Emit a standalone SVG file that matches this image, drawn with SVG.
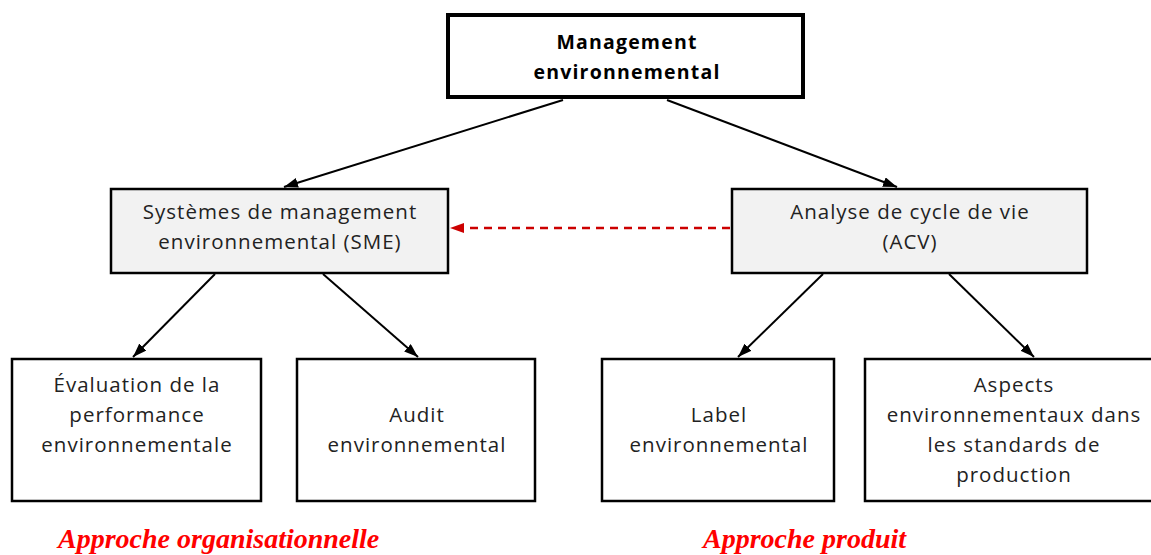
<svg xmlns="http://www.w3.org/2000/svg" width="1151" height="555" viewBox="0 0 1151 555">
<style>
  .box { fill: #ffffff; stroke: #000000; stroke-width: 2.5; }
  .grey { fill: #f2f2f2; }
  .top { stroke-width: 4; }
  .t { font-family: "Open Sans", "Liberation Sans", sans-serif; font-size: 20.5px; letter-spacing: 1px; fill: #222222; text-anchor: middle; }
  .b { font-weight: bold; font-size: 19.5px; letter-spacing: 1.2px; fill: #000000; }
  .conn { stroke: #000000; stroke-width: 2; fill: none; }
  .dash { stroke: #cc0000; stroke-width: 2.5; fill: none; stroke-dasharray: 8 6; }
  .lab { font-family: "Liberation Serif", "Times New Roman", serif; font-weight: bold; font-style: italic; font-size: 28px; fill: #ff0000; }
</style>
<defs>
  <marker id="arr" viewBox="0 0 14 10" refX="14" refY="5" markerWidth="14" markerHeight="10" markerUnits="userSpaceOnUse" orient="auto">
    <path d="M0,0 L14,5 L0,10 Z" fill="#000000"/>
  </marker>
  <marker id="arrRed" viewBox="0 0 14 10" refX="14" refY="5" markerWidth="14" markerHeight="10" markerUnits="userSpaceOnUse" orient="auto">
    <path d="M0,0 L14,5 L0,10 Z" fill="#cc0000"/>
  </marker>
</defs>

<g id="connectors">
  <line class="conn" x1="563" y1="100" x2="284" y2="187" marker-end="url(#arr)"/>
  <line class="conn" x1="667" y1="100" x2="897" y2="187" marker-end="url(#arr)"/>
  <line class="conn" x1="215" y1="274" x2="133" y2="357" marker-end="url(#arr)"/>
  <line class="conn" x1="323" y1="274" x2="418" y2="357" marker-end="url(#arr)"/>
  <line class="conn" x1="823" y1="274" x2="738" y2="357" marker-end="url(#arr)"/>
  <line class="conn" x1="949" y1="274" x2="1034" y2="357" marker-end="url(#arr)"/>
  <line class="dash" x1="730" y1="228" x2="450" y2="228" marker-end="url(#arrRed)"/>
</g>

<g id="node-management">
  <rect class="box top" x="448" y="15" width="355" height="82"/>
  <text class="t b" x="627" y="49">Management</text>
  <text class="t b" x="627" y="79">environnemental</text>
</g>

<g id="node-sme">
  <rect class="box grey" x="111" y="189" width="337" height="84"/>
  <text class="t" x="280" y="219">Systèmes de management</text>
  <text class="t" x="280" y="249">environnemental (SME)</text>
</g>

<g id="node-acv">
  <rect class="box grey" x="732" y="189" width="355" height="84"/>
  <text class="t" x="910" y="219">Analyse de cycle de vie</text>
  <text class="t" x="910" y="249">(ACV)</text>
</g>

<g id="node-evaluation">
  <rect class="box" x="12" y="359" width="249" height="142"/>
  <text class="t" x="137" y="392">Évaluation de la</text>
  <text class="t" x="137" y="422">performance</text>
  <text class="t" x="137" y="452">environnementale</text>
</g>

<g id="node-audit">
  <rect class="box" x="297" y="359" width="238" height="142"/>
  <text class="t" x="417" y="422">Audit</text>
  <text class="t" x="417" y="452">environnemental</text>
</g>

<g id="node-label">
  <rect class="box" x="602" y="359" width="232" height="142"/>
  <text class="t" x="719" y="422">Label</text>
  <text class="t" x="719" y="452">environnemental</text>
</g>

<g id="node-aspects">
  <rect class="box" x="865" y="359" width="290" height="142"/>
  <text class="t" x="1014" y="392">Aspects</text>
  <text class="t" x="1014" y="422">environnementaux dans</text>
  <text class="t" x="1014" y="452">les standards de</text>
  <text class="t" x="1014" y="482">production</text>
</g>

<g id="labels">
  <text class="lab" x="58" y="548">Approche organisationnelle</text>
  <text class="lab" x="703" y="548">Approche produit</text>
</g>
</svg>
